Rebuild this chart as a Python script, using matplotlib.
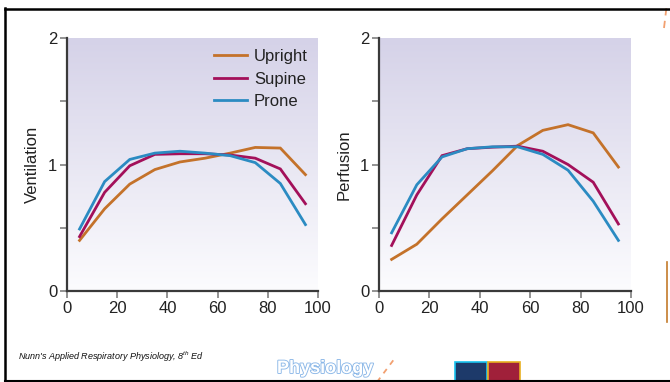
import numpy as np
import matplotlib
matplotlib.use("Agg")
import matplotlib.pyplot as plt
from matplotlib.lines import Line2D
from matplotlib.patches import Rectangle
from matplotlib.colors import LinearSegmentedColormap
from matplotlib import font_manager
import matplotlib.patheffects as pe

plt.rcParams['font.family'] = ['Liberation Sans', 'DejaVu Sans']

# ---- data ----
x = [5, 15, 25, 35, 45, 55, 65, 75, 85, 95]
vent_upright = [0.40, 0.65, 0.845, 0.96, 1.02, 1.05, 1.09, 1.135, 1.13, 0.92]
vent_supine = [0.43, 0.78, 0.99, 1.08, 1.085, 1.085, 1.075, 1.05, 0.965, 0.69]
vent_prone = [0.49, 0.865, 1.04, 1.09, 1.105, 1.09, 1.07, 1.015, 0.85, 0.525]

perf_upright = [0.25, 0.37, 0.57, 0.76, 0.95, 1.15, 1.27, 1.315, 1.25, 0.98]
perf_supine = [0.36, 0.76, 1.07, 1.125, 1.137, 1.145, 1.105, 1.0, 0.86, 0.53]
perf_prone = [0.46, 0.84, 1.06, 1.125, 1.14, 1.14, 1.08, 0.955, 0.71, 0.40]

series_names = ["Upright", "Supine", "Prone"]
colors = ["#c4722a", "#a3105a", "#2b8bc2"]
xticks = [0, 20, 40, 60, 80, 100]
yticks_major = [0, 1, 2]
yticks_minor = [0.5, 1.5]

available = {f.name for f in font_manager.fontManager.ttflist}
if "Liberation Sans Narrow" in available:
    cap_font, cap_size = "Liberation Sans Narrow", 7.8
else:
    cap_font, cap_size = "Liberation Sans", 6.5
plt.rcParams['mathtext.fontset'] = 'custom'
plt.rcParams['mathtext.rm'] = cap_font + ':italic'
plt.rcParams['mathtext.it'] = cap_font + ':italic'

fig = plt.figure(figsize=(6.7, 3.82), dpi=100)
fig.patch.set_facecolor("white")

grad = np.linspace(0, 1, 256).reshape(-1, 1)
cmap = LinearSegmentedColormap.from_list("g", ["#fcfcfe", "#d5d2e8"])


def setup(ax, ylabel):
    ax.imshow(grad, aspect="auto", cmap=cmap, origin="lower",
              extent=[0, 1, 0, 1], transform=ax.transAxes, zorder=0)
    ax.set_xlim(0, 100)
    ax.set_ylim(0, 2)
    for s in ["top", "right"]:
        ax.spines[s].set_visible(False)
    for s in ["left", "bottom"]:
        ax.spines[s].set_color("#3a3a3a")
        ax.spines[s].set_linewidth(1.6)
    ax.set_xticks(xticks)
    ax.set_yticks(yticks_major)
    ax.set_yticks(yticks_minor, minor=True)
    ax.tick_params(axis="both", which="both", direction="out", length=5,
                   width=1.3, color="#8a8a8a", labelsize=12, labelcolor="#222222", pad=2)
    ax.set_ylabel(ylabel, fontsize=12, color="#222222", labelpad=6)


ax1 = fig.add_axes([0.1, 0.2382, 0.3746, 0.6623])
ax2 = fig.add_axes([0.5657, 0.2382, 0.3761, 0.6623])
setup(ax1, "Ventilation")
setup(ax2, "Perfusion")

for ys, c, n in zip([vent_upright, vent_supine, vent_prone], colors, series_names):
    ax1.plot(x, ys, color=c, lw=2.0, label=n, zorder=3, solid_joinstyle="miter")
for ys, c in zip([perf_upright, perf_supine, perf_prone], colors):
    ax2.plot(x, ys, color=c, lw=2.0, zorder=3, solid_joinstyle="miter")

leg = ax1.legend(loc="upper right", bbox_to_anchor=(1.0, 0.995), frameon=False,
                 fontsize=12, handlelength=2.0, handletextpad=0.4,
                 labelspacing=0.45, borderaxespad=0.2)
for t in leg.get_texts():
    t.set_color("#222222")

# caption
fig.text(18 / 670, 1 - 357 / 382, r"Nunn's Applied Respiratory Physiology, 8$^{\rm th}$ Ed",
         fontsize=cap_size, family=cap_font, style="italic", color="#111111",
         va="center", ha="left")

# decorative "Physiology" outline text
fig.text(277 / 670, 1 - 373 / 382, "Physiology", fontsize=13, fontweight="bold",
         color="white", ha="left", va="baseline",
         path_effects=[pe.withStroke(linewidth=1.3, foreground="#8cb8e8")])

# thumbnails
fig.add_artist(Rectangle((455 / 670, 1 - 381 / 382), 32 / 670, 19 / 382,
                         transform=fig.transFigure, facecolor="#1d3a6a",
                         edgecolor="#19c4f0", lw=1.2))
fig.add_artist(Rectangle((488 / 670, 1 - 381 / 382), 32 / 670, 19 / 382,
                         transform=fig.transFigure, facecolor="#a0203a",
                         edgecolor="#e8b020", lw=1.2))

# dashed orange decorations
fig.add_artist(Line2D([377 / 670, 395 / 670], [1 - 382 / 382, 1 - 358 / 382],
                      transform=fig.transFigure, color="#f2a070", lw=1.3,
                      ls=(0, (3, 3))))
fig.add_artist(Line2D([664 / 670, 667 / 670], [1 - 28 / 382, 1 - 3 / 382],
                      transform=fig.transFigure, color="#f2a070", lw=1.3,
                      ls=(0, (4, 3))))
fig.add_artist(Line2D([667 / 670, 667 / 670], [1 - 322 / 382, 1 - 262 / 382],
                      transform=fig.transFigure, color="#c47a2a", lw=1.2))

# frame
fig.add_artist(Line2D([5 / 670, 5 / 670], [1 - 381 / 382, 1 - 8 / 382],
                      transform=fig.transFigure, color="black", lw=1.8))
fig.add_artist(Line2D([5 / 670, 1.0], [1 - 8.5 / 382, 1 - 8.5 / 382],
                      transform=fig.transFigure, color="black", lw=1.8))
fig.add_artist(Line2D([5 / 670, 1.0], [1 - 380.5 / 382, 1 - 380.5 / 382],
                      transform=fig.transFigure, color="black", lw=1.5))

fig.savefig("out.png", dpi=100)
